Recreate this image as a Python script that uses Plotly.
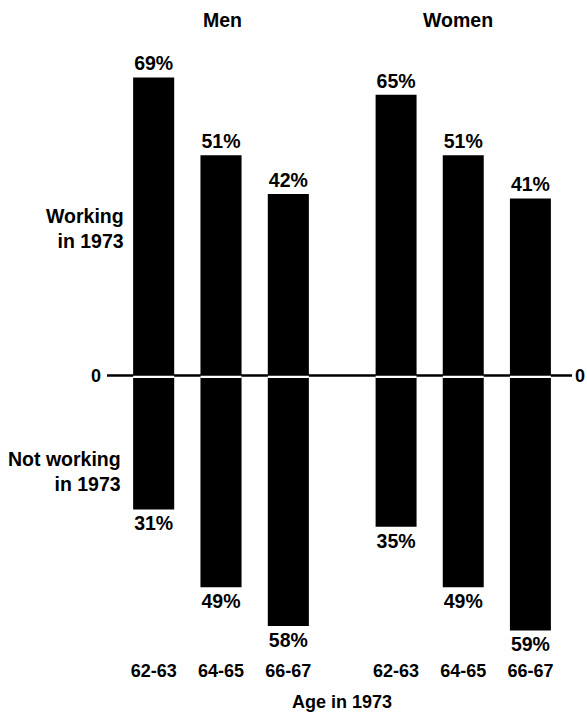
import plotly.graph_objects as go

# ---- data ----
age_groups = ["62-63", "64-65", "66-67"]
men_working = [69, 51, 42]
men_not_working = [31, 49, 58]
women_working = [65, 51, 41]
women_not_working = [35, 49, 59]

W, H = 587, 712
FONT = "Liberation Sans, Arial, Helvetica, sans-serif"
TF = dict(family=FONT, size=18, color="black", weight="bold")
PF = dict(family=FONT, size=19.5, color="black", weight="bold")
LF = dict(family=FONT, size=19.5, color="black", weight="bold")

def px_x(p):
    return p / W

def px_y(p):
    return 1 - p / H

fig = go.Figure()

def add_group(xaxis, working, notworking):
    fig.add_trace(go.Bar(
        x=age_groups, y=working, base=0, xaxis=xaxis, yaxis="y",
        marker=dict(color="black", line=dict(width=0)),
        text=[f"{v}%" for v in working], textposition="outside",
        textfont=PF, cliponaxis=False, showlegend=False, hoverinfo="skip"))
    fig.add_trace(go.Bar(
        x=age_groups, y=[-v for v in notworking], base=0, xaxis=xaxis, yaxis="y",
        marker=dict(color="black", line=dict(width=0)),
        text=[f"{v}%" for v in notworking], textposition="outside",
        textfont=PF, cliponaxis=False, showlegend=False, hoverinfo="skip"))
    # thin white break in each bar at the zero line
    fig.add_trace(go.Bar(
        x=age_groups, y=[0.4] * len(age_groups), base=-0.45, xaxis=xaxis, yaxis="y",
        marker=dict(color="white", line=dict(width=0)),
        showlegend=False, hoverinfo="skip"))

add_group("x", men_working, men_not_working)
add_group("x2", women_working, women_not_working)

plot_bottom = 658
zero_px = 375.5
scale = 4.32
ymax = zero_px / scale
ymin = -(plot_bottom - zero_px) / scale

xcommon = dict(showgrid=False, zeroline=False, showline=False, ticks="",
               tickfont=TF, fixedrange=True)
fig.update_layout(
    width=W, height=H,
    margin=dict(l=0, r=0, t=0, b=0),
    paper_bgcolor="white", plot_bgcolor="white",
    barmode="overlay", bargap=0.39,
    xaxis=dict(domain=[px_x(120), px_x(322)], anchor="y", **xcommon),
    xaxis2=dict(domain=[px_x(362.5), px_x(564)], anchor="y", **xcommon),
    yaxis=dict(domain=[1 - plot_bottom / H, 1], range=[ymin, ymax],
               showgrid=False, zeroline=False, showticklabels=False,
               showline=False, fixedrange=True),
)

# zero line
fig.add_shape(type="line", xref="paper", yref="y",
              x0=px_x(107), x1=px_x(572), y0=0, y1=0,
              line=dict(color="black", width=2.5), layer="below")

ann = dict(showarrow=False, xref="paper", yref="paper")
fig.add_annotation(text="Men", x=px_x(222), y=px_y(20), xanchor="center", yanchor="middle",
                   font=LF, **ann)
fig.add_annotation(text="Women", x=px_x(458), y=px_y(20), xanchor="center", yanchor="middle",
                   font=LF, **ann)
fig.add_annotation(text="Working<br>in 1973", x=px_x(126), y=px_y(229), xanchor="right",
                   yanchor="middle", align="right", font=LF, **ann)
fig.add_annotation(text="Not working<br>in 1973", x=px_x(123), y=px_y(472), xanchor="right",
                   yanchor="middle", align="right", font=LF, **ann)
fig.add_annotation(text="0", x=px_x(103), y=0, yref="y", xanchor="right", yanchor="middle",
                   showarrow=False, font=TF, xref="paper")
fig.add_annotation(text="0", x=px_x(573), y=0, yref="y", xanchor="left", yanchor="middle",
                   showarrow=False, font=TF, xref="paper")
fig.add_annotation(text="Age in 1973", x=px_x(342), y=px_y(702), xanchor="center",
                   yanchor="middle", font=TF, **ann)

fig.write_html("out.html", config={"displayModeBar": False},
               post_script="document.body.style.margin='0px';")
